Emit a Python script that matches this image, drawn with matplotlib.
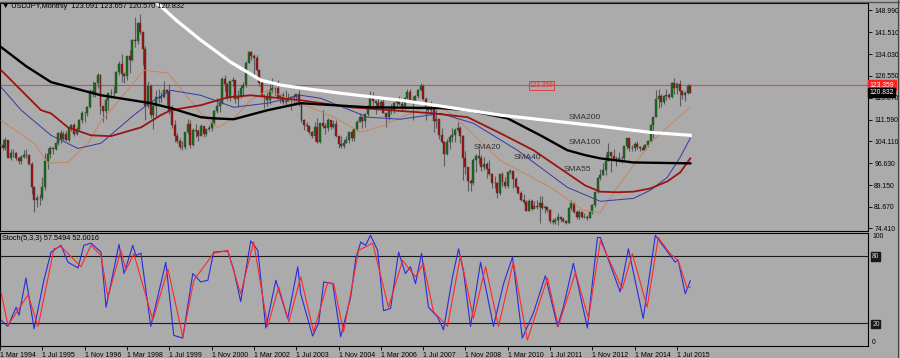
import numpy as np
import matplotlib.pyplot as plt
from matplotlib.transforms import blended_transform_factory

plt.rcParams["font.family"] = ["Liberation Sans", "DejaVu Sans"]

BG = "#ababab"

# ---------------------------
# USDJPY monthly candles, Jan 1994 .. Dec 2015 (index 0 = Mar 1994)
# ---------------------------
first_open = 111.9
close_px = [
    108.8, 102.4, 102.8, 101.8, 104.5, 98.5, 100.2, 100.0, 98.6, 97.3, 98.8, 99.6,
    99.4, 96.5, 88.4, 84.0, 84.6, 84.7, 88.4, 97.4, 99.7, 101.9, 101.6, 103.5,
    107.0, 104.8, 106.5, 104.6, 108.6, 109.8, 106.8, 108.5, 111.5, 114.0, 113.7, 116.0,
    121.2, 120.4, 124.0, 126.9, 116.4, 114.6, 118.4, 120.7, 120.8, 120.6, 127.8, 130.5,
    127.1, 126.5, 133.3, 132.0, 138.9, 138.4, 144.7, 141.4, 135.9, 116.1, 123.0, 113.1,
    116.4, 119.4, 119.0, 119.4, 121.7, 120.9, 114.6, 109.7, 106.0, 104.3, 102.1, 102.2,
    107.2, 110.2, 102.9, 108.1, 107.6, 106.1, 109.5, 106.7, 108.2, 108.8, 110.5, 114.4,
    116.4, 117.4, 125.6, 123.6, 118.9, 124.7, 125.0, 118.6, 119.4, 122.4, 123.5, 131.0,
    134.7, 133.3, 132.7, 128.5, 124.1, 119.5, 119.8, 118.4, 121.7, 122.5, 122.5, 118.8,
    119.9, 117.6, 118.0, 119.1, 119.4, 119.8, 120.5, 116.8, 111.4, 109.6, 109.5, 107.2,
    105.8, 109.1, 103.9, 110.4, 109.4, 108.8, 111.3, 109.2, 110.0, 105.8, 103.1, 102.6,
    103.6, 104.6, 107.2, 105.2, 108.4, 110.9, 112.4, 111.0, 113.4, 116.4, 119.7, 117.8,
    117.2, 115.9, 117.5, 113.8, 112.5, 114.5, 114.7, 117.4, 118.1, 116.9, 115.8, 119.1,
    121.0, 118.4, 117.8, 119.6, 121.7, 123.2, 118.6, 115.8, 114.9, 115.3, 111.0, 111.7,
    106.4, 103.8, 99.7, 104.0, 105.5, 106.2, 107.9, 108.7, 106.0, 98.5, 95.5, 90.6,
    89.9, 97.6, 99.0, 98.5, 95.3, 96.4, 94.6, 93.0, 89.7, 90.0, 86.3, 93.0,
    90.3, 89.0, 93.5, 94.0, 91.3, 88.4, 86.5, 84.2, 83.5, 80.4, 83.7, 81.1,
    82.0, 81.8, 83.1, 81.2, 81.5, 80.5, 76.8, 76.6, 77.1, 78.2, 77.6, 76.9,
    76.2, 81.2, 82.9, 80.0, 78.3, 79.8, 78.1, 78.4, 77.9, 79.8, 82.5, 86.7,
    91.7, 92.6, 94.2, 97.4, 100.5, 99.1, 97.9, 98.2, 98.3, 98.4, 102.4, 105.3,
    102.0, 101.8, 103.2, 102.2, 101.8, 101.3, 102.8, 104.1, 109.6, 112.3, 118.6, 119.8,
    117.5, 119.6, 120.1, 119.4, 124.1, 122.4, 123.9, 121.2, 119.9, 120.6, 123.09, 120.832,
]
high_px = [
    112.5, 109.5, 106.0, 104.8, 105.5, 104.7, 101.5, 101.5, 100.5, 98.9, 99.6, 101.0,
    101.5, 99.8, 97.0, 86.5, 85.9, 86.0, 92.0, 100.0, 101.7, 102.6, 102.2, 103.5,
    107.5, 107.9, 107.6, 107.8, 109.0, 109.9, 110.5, 108.9, 111.7, 114.4, 114.2, 116.2,
    122.0, 124.7, 124.5, 127.5, 127.2, 116.0, 118.9, 119.8, 122.1, 123.0, 128.1, 131.6,
    134.0, 128.0, 133.4, 135.3, 139.2, 146.7, 144.8, 147.6, 139.8, 136.9, 124.7, 123.9,
    116.9, 121.7, 122.0, 121.0, 124.8, 122.2, 123.6, 116.6, 111.5, 107.0, 105.4, 104.4,
    107.5, 111.7, 111.3, 108.8, 109.9, 108.5, 109.9, 109.2, 108.3, 109.7, 111.8, 114.8,
    119.0, 118.2, 126.3, 126.8, 124.5, 124.8, 126.3, 125.2, 121.8, 123.5, 124.6, 131.8,
    135.2, 135.0, 133.9, 133.8, 128.6, 125.0, 120.5, 121.0, 123.6, 125.7, 122.9, 125.1,
    120.3, 121.1, 121.7, 120.6, 119.6, 120.2, 120.5, 121.7, 117.6, 111.9, 110.7, 109.7,
    107.6, 110.6, 112.2, 110.5, 114.9, 110.4, 112.0, 111.4, 111.6, 111.3, 106.1, 105.8,
    104.9, 106.0, 107.5, 108.0, 108.6, 111.3, 113.7, 111.7, 113.8, 116.6, 121.4, 121.0,
    117.9, 119.0, 118.2, 118.7, 114.0, 116.4, 117.0, 117.5, 118.3, 119.8, 118.2, 119.2,
    122.2, 122.2, 119.8, 120.0, 122.0, 124.1, 123.7, 119.3, 117.4, 117.9, 115.8, 114.7,
    111.0, 108.8, 104.2, 105.0, 106.2, 108.6, 108.6, 110.7, 109.3, 106.2, 100.7, 95.3,
    91.4, 98.4, 99.7, 101.4, 99.6, 98.9, 97.0, 97.8, 93.3, 92.3, 90.3, 93.1,
    93.8, 91.8, 93.8, 94.8, 94.0, 92.0, 89.0, 87.2, 86.0, 84.0, 84.4, 84.5,
    83.7, 84.0, 85.5, 85.5, 82.2, 81.5, 81.0, 77.9, 77.9, 79.5, 78.3, 78.3,
    77.1, 81.7, 84.2, 81.8, 80.5, 80.6, 79.7, 79.6, 78.8, 80.4, 82.8, 86.7,
    91.8, 94.5, 96.7, 99.9, 103.7, 99.5, 101.5, 99.1, 100.6, 99.0, 102.6, 105.4,
    105.4, 102.8, 103.8, 104.1, 102.4, 102.8, 103.1, 104.5, 110.1, 112.4, 121.8, 121.9,
    120.5, 120.0, 122.0, 120.8, 124.5, 125.9, 124.6, 125.3, 121.7, 121.5, 123.8, 123.657,
]
low_px = [
    108.0, 101.1, 101.8, 101.0, 101.3, 98.3, 97.6, 98.7, 97.8, 96.3, 96.5, 98.6,
    98.5, 96.0, 86.2, 79.8, 81.6, 82.2, 84.0, 87.4, 94.8, 98.6, 99.7, 101.0,
    103.0, 103.4, 104.5, 104.2, 104.0, 107.7, 106.0, 106.2, 107.8, 110.4, 110.7, 112.8,
    115.6, 119.4, 119.4, 122.5, 113.4, 110.6, 111.7, 115.0, 119.1, 119.0, 121.0, 126.7,
    124.4, 124.1, 125.2, 127.5, 131.5, 136.4, 137.5, 141.0, 130.3, 111.6, 115.5, 112.1,
    108.3, 112.4, 117.4, 117.6, 119.0, 116.7, 113.6, 108.8, 103.8, 103.6, 101.4, 101.3,
    101.6, 106.8, 102.0, 102.7, 105.6, 104.2, 105.9, 105.7, 105.8, 107.6, 107.7, 109.6,
    113.9, 114.1, 116.8, 121.4, 118.4, 118.0, 123.2, 117.2, 115.8, 119.0, 119.6, 122.6,
    130.8, 132.0, 126.9, 128.2, 123.2, 119.3, 115.5, 116.4, 116.8, 120.7, 119.9, 118.7,
    117.2, 116.9, 116.3, 118.1, 115.0, 116.5, 116.6, 116.3, 110.7, 107.9, 107.7, 106.7,
    105.3, 104.2, 103.4, 103.6, 108.8, 106.8, 107.6, 108.2, 108.6, 105.6, 102.0, 101.8,
    101.7, 103.6, 103.6, 104.3, 104.3, 107.8, 110.8, 108.8, 109.0, 112.9, 115.7, 115.8,
    113.4, 115.0, 115.4, 113.7, 108.9, 111.5, 113.6, 113.8, 115.4, 116.5, 114.8, 115.3,
    118.5, 117.6, 111.6, 117.4, 119.0, 121.4, 118.4, 111.6, 113.8, 113.0, 107.2, 108.6,
    104.9, 103.6, 95.8, 99.6, 101.6, 104.0, 103.8, 107.4, 103.5, 90.9, 92.9, 87.1,
    87.1, 89.3, 93.5, 96.4, 93.9, 94.4, 91.7, 92.6, 88.2, 88.0, 84.8, 85.9,
    88.8, 88.1, 88.1, 92.8, 88.2, 88.3, 86.2, 83.6, 82.8, 80.2, 80.3, 80.5,
    81.4, 81.1, 76.3, 80.9, 79.6, 79.8, 76.3, 75.9, 75.9, 75.5, 76.6, 76.6,
    76.0, 76.1, 80.6, 79.6, 77.7, 77.7, 77.8, 78.0, 77.1, 77.8, 79.1, 81.7,
    86.5, 90.8, 92.6, 92.6, 97.3, 93.8, 97.6, 95.8, 96.9, 96.6, 97.6, 101.6,
    100.8, 100.8, 100.8, 101.4, 100.8, 101.1, 101.1, 102.2, 104.0, 105.2, 112.3, 115.6,
    115.9, 116.9, 118.3, 118.5, 118.9, 120.4, 120.4, 116.2, 118.6, 118.1, 120.2, 120.57,
]

# ---------------------------
# moving averages (month index, price)
# ---------------------------
sma200_idx = [30, 38.2, 58.2, 67.0, 75.9, 87.3, 98.6, 106.1, 113.7, 128.8, 151.5, 166.6, 189.2, 227.0, 245.9, 261]
sma200_val = [175.0, 166.2, 152.5, 145.3, 138.8, 131.2, 125.1, 123.4, 122.4, 120.6, 118.2, 116.2, 113.1, 109.3, 107.2, 106.2]

sma100_idx = [0.4, 9.8, 19.3, 38.2, 57.0, 64.6, 75.9, 80.8, 88.4, 101.2, 113.7, 139.0, 166.6, 176.8, 191.9, 204.3,
              214.5, 221.3, 227.0, 239.5, 261]
sma100_val = [136.4, 129.9, 124.4, 119.9, 117.2, 115.5, 112.4, 112.0, 111.7, 114.8, 117.2, 115.8, 115.5, 114.8, 112.0,
              106.2, 101.1, 99.4, 98.3, 96.9, 96.6]

sma55_idx = [0.4, 15.5, 19.3, 25.7, 34.4, 41.9, 53.3, 60.8, 64.6, 75.9, 86.1, 94.8, 113.7, 132.6, 163.9, 176.8, 189.2,
             201.7, 214.5, 221.3, 227.0, 233.4, 239.5, 245.9, 252.3, 257.2, 261]
sma55_val = [128.5, 114.8, 113.7, 108.9, 106.2, 105.9, 108.9, 113.1, 114.8, 116.5, 119.2, 119.9, 118.2, 115.8, 113.7,
             112.4, 106.9, 101.1, 93.2, 89.0, 86.9, 86.7, 86.9, 88.0, 90.4, 93.5, 98.3]

sma40_idx = [0.4, 8.0, 19.3, 29.5, 38.2, 50.6, 57.0, 64.6, 75.9, 88.4, 101.2, 113.7, 121.2, 139.0, 151.5, 166.6, 179.0,
             195.6, 214.5, 227.0, 239.5, 245.9, 252.3, 257.2, 261]
sma40_val = [122.7, 114.8, 106.2, 101.7, 103.5, 113.1, 117.5, 121.6, 119.9, 115.8, 117.2, 119.9, 118.9, 112.4, 111.7,
             113.7, 110.3, 101.1, 88.4, 83.6, 84.6, 87.4, 91.8, 98.7, 105.2]

sma20_idx = [0.4, 12.9, 18.2, 25.7, 33.3, 38.2, 41.9, 54.4, 63.5, 69.5, 75.9, 82.4, 88.4, 94.8, 101.2, 113.7, 126.2,
             136.4, 145.0, 157.9, 163.9, 167.7, 174.1, 189.2, 208.1, 220.6, 227.0, 233.4, 239.5, 245.9, 252.3, 256.1, 261]
sma20_val = [111.3, 103.5, 96.6, 97.0, 103.5, 111.3, 114.8, 128.5, 127.5, 120.9, 113.7, 108.9, 112.0, 118.2, 121.6,
             117.2, 112.4, 107.2, 109.6, 114.8, 116.8, 115.5, 110.7, 97.6, 88.4, 80.5, 79.8, 88.4, 95.9, 103.5, 108.9,
             112.0, 115.8]

# ---------------------------
# Stoch(5,3,3) (month index, value)
# ---------------------------
k_idx = [0.4, 3.0, 6.1, 7.2, 9.8, 12.9, 16.6, 19.3, 23.1, 25.7, 29.5, 31.7, 34.4, 38.2, 40.1, 45.0, 46.9, 50.2, 51.4, 53.3,
         57.0, 62.7, 65.7, 69.1, 72.9, 75.9, 78.6, 80.8, 86.1, 88.4, 91.0, 94.8, 97.5, 100.5, 104.3, 108.8, 112.6, 113.7,
         118.2, 120.5, 122.4, 125.8, 128.8, 132.6, 134.5, 136.4, 138.2, 140.1, 142.8, 145.0, 147.7, 150.7, 153.3, 155.2,
         157.1, 159.4, 162.0, 165.4, 167.7, 171.1, 173.4, 175.3, 177.9, 181.7, 186.6, 190.4, 193.8, 197.5, 201.7, 206.2,
         210.8, 213.0, 216.8, 222.1, 225.9, 227.0, 234.5, 237.6, 243.2, 247.8, 255.3, 256.4, 259.1, 261]
k_val = [22.6, 17, 34, 27, 60, 15, 58, 83, 89, 74, 69, 89, 91, 83, 34, 90, 64, 89, 80, 82,
         17, 74, 9, 6.6, 64, 56.5, 58, 83, 84, 67, 39, 93, 84.5, 15.5, 58, 24, 70, 46,
         8.4, 20, 56.5, 55, 7.8, 43, 77, 92, 89, 98, 84.5, 31, 33, 83, 64, 70,
         55, 82, 34, 25.5, 14, 61, 86, 65, 17, 74, 17, 55, 78.6, 6.6, 29, 62,
         17, 34, 73, 15.5, 96, 96, 47.6, 86, 24, 98, 74, 76, 46, 57.5494]

d_idx = [0.4, 3.0, 10.6, 14.4, 20.4, 23.1, 30.6, 34.4, 38.2, 40.8, 45.7, 47.6, 50.6, 57.8, 63.5, 69.1, 73.3, 80.8, 86.1,
         91.0, 95.9, 101.2, 105.4, 109.2, 113.7, 118.6, 123.9, 126.2, 129.9, 135.6, 140.9, 146.9, 152.2, 157.1, 160.1,
         163.9, 169.2, 174.1, 179.0, 183.6, 188.5, 194.1, 199.4, 207.0, 211.1, 217.6, 222.5, 227.0, 235.3, 239.1, 244.7,
         248.9, 253.4, 256.4, 259.8, 261]
d_val = [47.6, 18, 45, 17, 86, 88, 70, 89, 80, 43, 84.5, 67, 81.6, 22.6, 68, 7.8, 58, 82, 84.5,
         46, 92, 17, 52, 21, 61, 12, 56, 55, 12, 84.5, 91, 34, 75.7, 61, 73,
         30, 17, 80, 24, 70, 17, 74, 4.9, 60, 17, 65, 24, 93, 50.6, 81.6, 34,
         96, 81.6, 75.7, 51, 52.0016]

price_ticks = [148.990, 141.510, 134.030, 126.550, 119.070, 111.590, 104.110, 96.630, 89.150, 81.670, 74.410]
date_idx = [0, 16, 32, 48, 64, 80, 96, 112, 128, 144, 160, 176, 192, 208, 224, 240, 256]
date_labels = ["1 Mar 1994", "1 Jul 1995", "1 Nov 1996", "1 Mar 1998", "1 Jul 1999", "1 Nov 2000",
               "1 Mar 2002", "1 Jul 2003", "1 Nov 2004", "1 Mar 2006", "1 Jul 2007", "1 Nov 2008",
               "1 Mar 2010", "1 Jul 2011", "1 Nov 2012", "1 Mar 2014", "1 Jul 2015"]
hline_level = 123.359
last_close = close_px[-1]

# ---------------------------
# figure layout (pixel based, 900 x 358)
# ---------------------------
W, H = 900, 358
fig = plt.figure(figsize=(9, 3.58), dpi=100, facecolor=BG)


def box(x0, y0, x1, y1):
    return [x0 / W, 1 - y1 / H, (x1 - x0) / W, (y1 - y0) / H]


ax = fig.add_axes(box(0, 3, 868, 230.5), facecolor=BG)
ax2 = fig.add_axes(box(0, 233, 868, 345.5), facecolor=BG, sharex=ax)

# candles
idx = np.arange(len(close_px)) - 2
close_a = np.array(close_px)
open_a = np.r_[first_open, close_a[:-1]]
up = close_a >= open_a
ax.vlines(idx, low_px, high_px, color="#5c5c5c", lw=0.8, zorder=2)
ax.bar(idx[up], (close_a - open_a)[up], bottom=open_a[up], width=0.75,
       color="#127012", edgecolor="#3a3a3a", lw=0.3, zorder=3)
ax.bar(idx[~up], (open_a - close_a)[~up], bottom=close_a[~up], width=0.75,
       color="#a80c0c", edgecolor="#3a3a3a", lw=0.3, zorder=3)

# moving averages
ax.plot(sma20_idx, sma20_val, color="#c8845e", lw=0.7, zorder=4)
ax.plot(sma40_idx, sma40_val, color="#3838a8", lw=0.7, zorder=4)
ax.plot(sma55_idx, sma55_val, color="#9a1414", lw=1.3, zorder=4)
ax.plot(sma100_idx, sma100_val, color="black", lw=1.7, zorder=4)
ax.plot(sma200_idx, sma200_val, color="white", lw=2.3, zorder=4)

ax.text(214.9, 112.4, "SMA200", fontsize=6, color="#333333", va="center", zorder=6)
ax.text(214.9, 103.8, "SMA100", fontsize=6, color="#333333", va="center", zorder=6)
ax.text(179.0, 102.1, "SMA20", fontsize=6, color="#333333", va="center", zorder=6)
ax.text(194.1, 98.7, "SMA40", fontsize=6, color="#333333", va="center", zorder=6)
ax.text(213.0, 94.5, "SMA55", fontsize=6, color="#333333", va="center", zorder=6)

# horizontal line
ax.axhline(hline_level, color="#e04848", lw=0.8, zorder=1)
ax.text(204.7, hline_level, f"{hline_level:.3f}", fontsize=4.8, color="#e03030", ha="center", va="center",
        bbox=dict(fc="none", ec="#e03030", lw=0.6, boxstyle="square,pad=0.15"), zorder=6)

ax.set_xlim(0.404, 328.2)
ax.set_ylim(73.61, 151.49)
ax2.set_ylim(0, 100)

for a in (ax, ax2):
    for s in a.spines.values():
        s.set_color("black")
        s.set_linewidth(0.8)

# price axis
ax.yaxis.tick_right()
ax.set_yticks(price_ticks)
ax.set_yticklabels([f"{t:.3f}" for t in price_ticks])
ax.tick_params(axis="y", direction="out", length=3, width=0.6, pad=1.5, labelsize=4.9, colors="black")
ax.tick_params(axis="x", bottom=False, labelbottom=False)

tr = blended_transform_factory(ax.transAxes, ax.transData)
ax.text(1.002, hline_level, f"{hline_level:.3f}", transform=tr, fontsize=4.9, color="white", va="center",
        ha="left", bbox=dict(fc="#ff2020", ec="#ff2020", boxstyle="square,pad=0.2"), zorder=7, clip_on=False)
ax.text(1.002, last_close, f"{last_close:.3f}", transform=tr, fontsize=4.9, color="white", va="center",
        ha="left", bbox=dict(fc="black", ec="black", boxstyle="square,pad=0.2"), zorder=7, clip_on=False)

# stochastic
ax2.plot(k_idx, k_val, color="#2a2ae0", lw=0.8, zorder=3)
ax2.plot(d_idx, d_val, color="#ff2828", lw=0.8, zorder=4)
ax2.axhline(80, color="#1a1a1a", lw=0.8, zorder=2)
ax2.axhline(20, color="#1a1a1a", lw=0.8, zorder=2)

ax2.yaxis.tick_right()
ax2.set_yticks([100, 80, 20, 0])
ax2.set_yticklabels(["100", "80", "20", "0"])
ax2.tick_params(axis="y", direction="out", length=0, pad=3, labelsize=4.9, colors="black")
for lbl in ax2.get_yticklabels():
    if lbl.get_text() in ("80", "20"):
        lbl.set_color("#cfcfcf")
        lbl.set_bbox(dict(fc="#1a1a1a", ec="#1a1a1a", boxstyle="square,pad=0.1"))
ax2.get_yticklabels()[0].set_va("top")
ax2.get_yticklabels()[-1].set_va("bottom")

ax2.set_xticks(date_idx)
ax2.set_xticklabels(date_labels, ha="left")
ax2.tick_params(axis="x", direction="out", length=3, width=0.6, pad=2, labelsize=5.0, colors="black")

# headers
fig.text(2 / W, 1 - 7 / H, "\u25bc USDJPY,Monthly  123.091 123.657 120.570 120.832", fontsize=5.3,
         color="black", va="center", family=["Liberation Sans", "DejaVu Sans"])
fig.text(2 / W, 1 - 238 / H, "Stoch(5,3,3) 57.5494 52.0016", fontsize=5.3, color="black", va="center")

# window frame
fig.add_artist(plt.Line2D([0, 1], [1 - 1.5 / H, 1 - 1.5 / H], color="#555555", lw=1.0))
fig.add_artist(plt.Line2D([897.5 / W, 897.5 / W], [0, 1], color="#444444", lw=0.8))

fig.savefig("out.png", dpi=100, facecolor=BG)
